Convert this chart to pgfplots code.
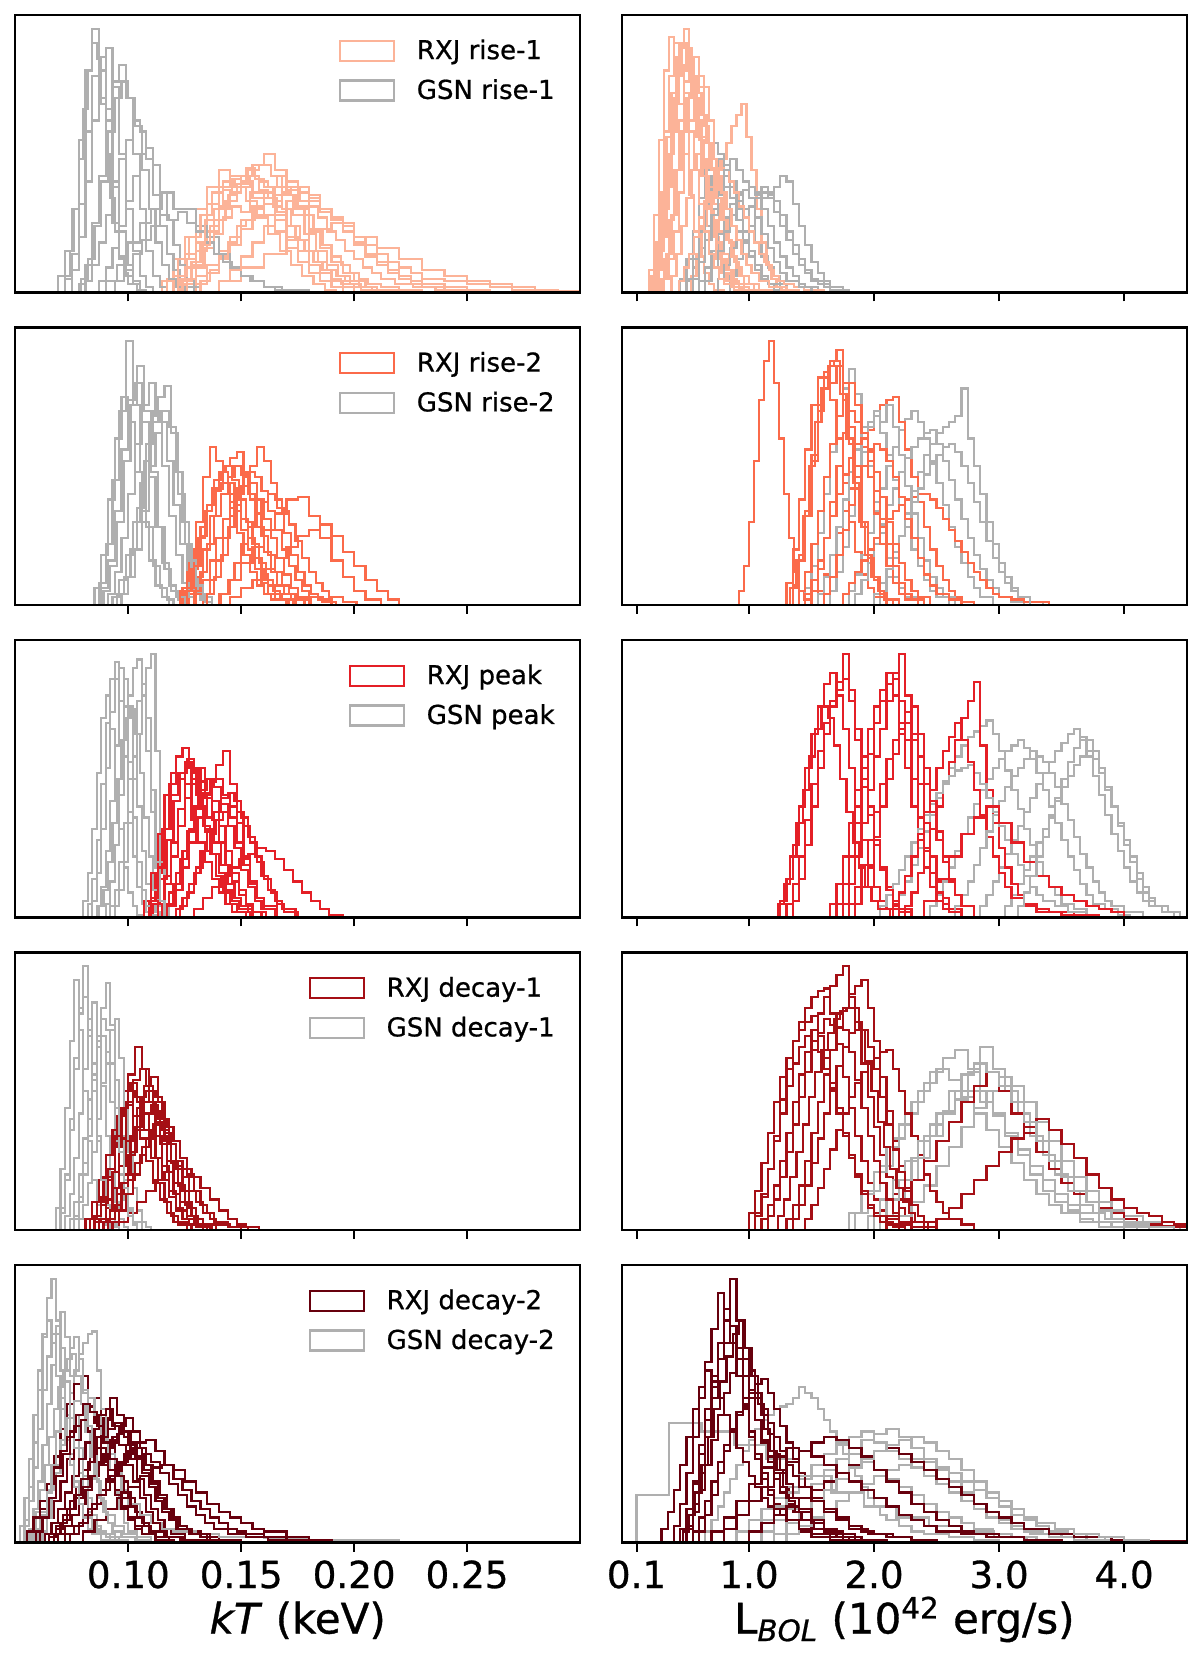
\documentclass[border=0pt]{standalone}
\usepackage{pgfplots}
\pgfplotsset{compat=1.18}
\usepackage{fontspec}
\setmainfont{DejaVu Sans}[FakeBold=0.8]
\definecolor{rA}{HTML}{FCB398}
\definecolor{rB}{HTML}{FB6A4A}
\definecolor{rC}{HTML}{E41F26}
\definecolor{rD}{HTML}{A50F15}
\definecolor{rE}{HTML}{67000D}
\definecolor{gs}{HTML}{AFAFAF}
\newcommand{\Hs}[2]{\addplot[h,#1] coordinates {#2};}
\pgfplotsset{
  h/.style={const plot, no markers, line width=1.1pt, forget plot},
  hp/.style={scale only axis, width=282.3pt, height=138.75pt, anchor=south west,
    ymin=0, ymax=100, ytick=\empty, xtick pos=left, tick align=outside,
    major tick length=4.5pt, axis line style={line width=1.1pt},
    every tick/.style={black, line width=1pt}, axis on top,
    xticklabel style={font=\fontsize{18.6}{22}\selectfont, anchor=base, inner sep=0pt, yshift=-18.25pt},
    xlabel style={font=\fontsize{21}{25}\selectfont, at={(axis description cs:0.5,0)}, anchor=base, inner sep=0pt, yshift=-45.5pt},
    legend style={at={(rel axis cs:1,1)}, anchor=north east, xshift=-12.5pt, yshift=-12pt,
      draw=none, fill=none, inner sep=0pt, font=\fontsize{13}{15}\selectfont,
      cells={anchor=west}, row sep=8.5pt, column sep=10.7pt, nodes={inner sep=0pt}},
    legend image code/.code={\draw[##1, line width=1.1pt] (0pt,-5pt) rectangle (27pt,5pt);}},
  lt/.style={hp, xmin=50, xmax=300, xtick={100,150,200,250}, xticklabels={}},
  rt/.style={hp, xmin=-1.6, xmax=450, xtick={10,100,200,300,400}, xticklabels={}},
}
\begin{document}
\begin{tikzpicture}
\useasboundingbox (0,0) rectangle (600pt,832.5pt);
% ===== Row 1 left
\begin{axis}[lt, at={(7.7pt,686.25pt)}]
\addlegendimage{draw=rA}\addlegendentry{RXJ rise-1}
\addlegendimage{draw=gs}\addlegendentry{GSN rise-1}
\Hs{rA}{(115,0)(120,4)(125,9)(130,15)(135,22)(140,30)(145,36)(150,42)(155,46)(160,50)(165,44)(170,38)(175,30)(180,22)(185,16)(190,11)(195,7)(200,4)(205,2)(210,1)(215,0)}
\Hs{gs}{(66,0)(69,6)(72,15)(75,30)(78,55)(81,80)(84,95)(87,70)(90,45)(93,25)(96,12)(99,6)(102,3)(105,1)(108,0)}
\Hs{rA}{(110,0)(115,4)(120,12)(125,20)(130,30)(135,38)(140,44)(145,42)(150,40)(155,34)(160,28)(165,22)(170,16)(175,11)(180,7)(185,4)(190,2)(195,0)}
\Hs{gs}{(69,0)(72,5)(75,14)(78,32)(81,58)(84,78)(87,85)(90,66)(93,40)(96,22)(99,10)(102,4)(105,1)(108,0)}
\Hs{rA}{(120,0)(125,3)(130,6)(135,10)(140,15)(145,20)(150,26)(155,31)(160,36)(165,38)(170,40)(175,38)(180,35)(185,30)(190,26)(195,22)(200,18)(205,14)(210,11)(215,8)(220,6)(225,4)(230,3)(240,2)(250,1)(260,0)}
\Hs{gs}{(75,0)(78,3)(81,10)(84,25)(87,42)(90,62)(93,76)(96,82)(99,70)(102,50)(105,30)(108,15)(111,6)(114,2)(117,0)}
\Hs{rA}{(115,0)(120,6)(125,14)(130,24)(135,32)(140,38)(145,42)(150,40)(155,36)(160,32)(165,26)(170,20)(175,15)(180,10)(185,7)(190,4)(195,2)(200,0)}
\Hs{gs}{(78,0)(81,4)(84,10)(87,18)(90,28)(93,38)(96,48)(99,55)(102,62)(105,58)(108,48)(111,35)(114,24)(117,14)(120,8)(123,4)(126,2)(129,0)}
\Hs{rA}{(125,0)(130,3)(135,7)(140,12)(145,17)(150,23)(155,28)(160,32)(165,35)(170,37)(175,36)(180,33)(185,29)(190,26)(195,22)(200,17)(205,13)(210,10)(215,7)(220,5)(225,3)(230,2)(240,1)(255,0)}
\Hs{gs}{(85,0)(90,4)(95,10)(100,18)(105,25)(110,30)(115,36)(120,30)(125,30)(130,24)(135,20)(140,14)(145,9)(150,6)(155,4)(160,2)(165,1)(170,0)}
\Hs{rA}{(118,0)(123,5)(128,10)(133,18)(138,26)(143,33)(148,39)(153,44)(158,46)(163,42)(168,35)(173,28)(178,21)(183,15)(188,10)(193,6)(198,3)(203,1)(208,0)}
\Hs{gs}{(72,0)(75,8)(78,20)(81,40)(84,62)(87,80)(90,88)(93,74)(96,50)(99,30)(102,15)(105,6)(108,2)(111,0)}
\Hs{rA}{(130,0)(140,4)(150,9)(160,14)(170,19)(180,23)(190,25)(200,20)(210,16)(220,12)(230,8)(240,6)(250,4)(260,3)(270,2)(280,1)(290,0.5)(300,0)}
\Hs{gs}{(84,0)(87,4)(90,9)(93,16)(96,24)(99,33)(102,42)(105,50)(108,52)(111,46)(114,36)(117,26)(120,17)(123,10)(126,5)(129,2)(132,0)}
\Hs{rA}{(112,0)(117,5)(122,12)(127,20)(132,28)(137,36)(142,40)(147,38)(152,33)(157,27)(162,21)(167,15)(172,10)(177,6)(182,3)(187,1)(192,0)}
\Hs{rA}{(122,0)(126,5)(130,9)(134,16)(138,21)(142,27)(146,31)(150,29)(154,36)(158,40)(162,38)(166,42)(170,35)(174,30)(178,28)(182,22)(186,17)(190,13)(194,10)(198,7)(202,5)(206,3)(212,2)(220,1)(230,0)}
\Hs{gs}{(76,0)(79,5)(82,12)(85,24)(88,40)(91,58)(94,70)(97,76)(100,70)(103,60)(106,44)(109,30)(112,18)(115,10)(118,5)(121,2)(125,0)}
\Hs{rA}{(128,0)(132,4)(136,8)(140,13)(144,18)(148,24)(152,26)(156,30)(160,34)(164,31)(168,36)(172,38)(176,33)(180,31)(184,27)(188,22)(192,19)(196,15)(200,12)(204,9)(208,7)(212,5)(218,3)(226,2)(236,1)(250,0)}
\Hs{gs}{(90,0)(94,4)(98,8)(102,14)(106,19)(110,24)(114,28)(118,26)(122,29)(126,25)(130,22)(134,18)(138,14)(142,11)(146,8)(150,6)(154,4)(160,2)(168,1)(180,0)}
\Hs{rA}{(118,0)(122,6)(126,12)(130,18)(134,26)(138,30)(142,37)(146,41)(150,38)(154,42)(158,37)(162,34)(166,29)(170,24)(174,19)(178,15)(182,11)(186,8)(190,5)(194,3)(200,2)(208,1)(216,0)}
\Hs{gs}{(70,0)(72,6)(74,15)(76,30)(78,48)(80,66)(82,80)(84,90)(86,84)(88,68)(90,50)(92,34)(94,22)(96,13)(98,7)(100,3)(104,1)(108,0)}
\Hs{rA}{(135,0)(140,4)(145,8)(150,13)(155,18)(160,24)(165,28)(170,33)(175,31)(180,34)(185,30)(190,27)(195,24)(200,20)(205,17)(210,14)(215,11)(220,9)(225,7)(230,5)(240,4)(250,3)(260,2)(270,1)(285,0)}
\Hs{rA}{(120,0)(124,4)(128,11)(132,17)(136,24)(140,31)(144,35)(148,39)(152,45)(156,41)(160,38)(164,33)(168,30)(172,24)(176,19)(180,15)(184,11)(188,8)(192,6)(196,4)(202,2)(210,1)(220,0)}
\end{axis}
% ===== Row 1 right
\begin{axis}[rt, at={(311pt,686.25pt)}]
\Hs{rA}{(20,0)(24,5)(28,15)(32,30)(36,50)(40,70)(44,88)(48,95)(52,85)(56,70)(60,55)(64,42)(68,30)(72,20)(76,12)(80,7)(84,4)(88,2)(92,1)(100,0)}
\Hs{gs}{(40,0)(45,5)(50,12)(55,22)(60,34)(65,44)(70,54)(75,50)(80,42)(85,34)(90,26)(95,19)(100,13)(105,8)(110,5)(115,3)(120,1)(130,0)}
\Hs{rA}{(16,0)(20,8)(24,28)(28,55)(32,80)(36,92)(40,85)(44,68)(48,50)(52,35)(56,22)(60,13)(64,7)(68,3)(72,1)(80,0)}
\Hs{gs}{(80,0)(85,6)(90,12)(95,18)(100,24)(105,30)(110,34)(115,36)(120,38)(125,42)(130,40)(135,32)(140,24)(145,17)(150,11)(155,7)(160,4)(165,2)(175,0)}
\Hs{rA}{(24,0)(28,4)(32,12)(36,26)(40,44)(44,62)(48,76)(52,84)(56,85)(60,74)(64,60)(68,45)(72,32)(76,22)(80,14)(84,8)(88,4)(92,2)(100,0)}
\Hs{gs}{(45,0)(50,4)(55,9)(60,16)(65,24)(70,30)(75,35)(80,38)(85,40)(90,36)(95,30)(100,24)(105,18)(110,13)(115,9)(120,6)(125,3)(130,1)(140,0)}
\Hs{rA}{(50,0)(54,6)(58,14)(62,24)(66,34)(70,40)(74,44)(78,48)(82,54)(86,60)(90,64)(94,68)(98,56)(102,44)(106,30)(110,18)(114,10)(118,5)(122,2)(130,0)}
\Hs{gs}{(55,0)(60,4)(65,9)(70,15)(75,21)(80,27)(85,32)(90,35)(95,37)(100,38)(105,35)(110,30)(115,24)(120,18)(125,13)(130,9)(135,6)(140,3)(145,2)(155,0)}
\Hs{rA}{(28,0)(32,5)(36,12)(40,22)(44,36)(48,50)(52,62)(56,72)(60,78)(64,74)(68,62)(72,48)(76,36)(80,26)(84,18)(88,11)(92,6)(96,3)(104,1)(112,0)}
\Hs{gs}{(45,0)(50,5)(55,12)(60,22)(65,32)(70,42)(75,48)(80,46)(85,38)(90,30)(95,22)(100,15)(105,10)(110,6)(115,3)(125,1)(135,0)}
\Hs{rA}{(22,0)(26,8)(30,20)(34,38)(38,58)(42,78)(46,90)(50,86)(54,72)(58,56)(62,42)(66,30)(70,20)(74,12)(78,7)(82,4)(86,2)(94,0)}
\Hs{gs}{(70,0)(75,5)(80,10)(85,16)(90,22)(95,27)(100,31)(105,34)(110,36)(115,35)(120,33)(125,28)(130,22)(135,17)(140,12)(145,8)(150,5)(155,3)(165,1)(180,0)}
\Hs{rA}{(40,0)(44,4)(48,9)(52,14)(56,20)(60,27)(64,33)(68,38)(72,42)(76,45)(80,44)(84,40)(88,36)(92,31)(96,27)(100,22)(104,18)(108,14)(112,11)(116,8)(120,6)(124,4)(128,3)(136,2)(144,1)(160,0)}
\Hs{rA}{(18,0)(22,6)(26,18)(30,36)(34,56)(38,72)(42,84)(46,80)(50,88)(54,76)(58,62)(62,48)(66,36)(70,26)(74,18)(78,12)(82,8)(86,5)(90,3)(96,1)(104,0)}
\Hs{gs}{(50,0)(55,5)(60,11)(65,19)(70,28)(75,36)(80,44)(85,48)(90,44)(95,40)(100,34)(105,27)(110,21)(115,16)(120,11)(125,7)(130,4)(140,2)(150,0)}
\Hs{rA}{(26,0)(30,5)(34,14)(38,28)(42,44)(46,58)(50,70)(54,78)(58,72)(62,64)(66,54)(70,44)(74,34)(78,26)(82,19)(86,13)(90,9)(94,6)(100,3)(108,1)(118,0)}
\Hs{gs}{(60,0)(65,4)(70,9)(75,15)(80,22)(85,28)(90,33)(95,37)(100,38)(105,36)(110,38)(115,34)(120,29)(125,24)(130,19)(135,14)(140,10)(145,7)(150,4)(160,2)(175,0)}
\Hs{rA}{(20,0)(24,10)(28,30)(32,58)(36,78)(40,90)(44,82)(48,72)(52,58)(56,44)(60,32)(64,22)(68,14)(72,9)(76,5)(80,3)(88,1)(96,0)}
\Hs{rA}{(34,0)(38,6)(42,14)(46,24)(50,34)(54,44)(58,50)(62,56)(66,54)(70,48)(74,42)(78,36)(82,30)(86,24)(90,19)(94,14)(98,10)(102,7)(108,4)(116,2)(126,1)(140,0)}
\end{axis}
% ===== Row 2 left
\begin{axis}[lt, at={(7.7pt,530pt)}]
\addlegendimage{draw=rB}\addlegendentry{RXJ rise-2}
\addlegendimage{draw=gs}\addlegendentry{GSN rise-2}
\Hs{gs}{(84,0)(87,8)(90,22)(93,45)(96,70)(99,95)(102,72)(105,48)(108,28)(111,14)(114,6)(117,2)(120,0)}
\Hs{rB}{(130,0)(133,4)(136,9)(139,16)(142,24)(145,32)(148,40)(151,46)(154,50)(157,57)(160,52)(163,44)(166,35)(169,26)(172,18)(175,12)(178,7)(181,4)(184,2)(190,0)}
\Hs{gs}{(86,0)(89,5)(92,14)(95,30)(98,52)(101,72)(104,86)(107,70)(110,48)(113,28)(116,13)(119,5)(122,2)(125,0)}
\Hs{rB}{(121,0)(124,6)(127,16)(130,30)(133,46)(136,57)(139,52)(142,44)(145,35)(148,26)(151,18)(154,12)(157,7)(160,4)(163,2)(170,0)}
\Hs{gs}{(92,0)(95,4)(98,10)(101,20)(104,35)(107,52)(110,66)(113,75)(116,79)(119,62)(122,40)(125,22)(128,10)(131,4)(134,1)(137,0)}
\Hs{rB}{(124,0)(127,4)(130,10)(133,20)(136,32)(139,42)(142,50)(145,53)(148,55)(151,48)(154,38)(157,28)(160,19)(163,12)(166,7)(169,4)(172,2)(178,0)}
\Hs{gs}{(88,0)(91,4)(94,12)(97,24)(100,40)(103,58)(106,72)(109,80)(112,68)(115,50)(118,32)(121,18)(124,8)(127,3)(130,0)}
\Hs{rB}{(140,0)(145,3)(150,6)(155,9)(160,13)(165,17)(170,21)(175,25)(180,27)(185,29)(190,25)(195,19)(200,14)(205,9)(210,5)(215,2)(220,0)}
\Hs{gs}{(82,0)(85,6)(88,18)(91,38)(94,60)(97,75)(100,66)(103,48)(106,30)(109,16)(112,7)(115,3)(118,0)}
\Hs{rB}{(135,0)(140,4)(145,9)(150,15)(155,21)(160,27)(165,33)(170,38)(175,39)(180,32)(185,24)(190,16)(195,10)(200,5)(205,2)(212,0)}
\Hs{gs}{(90,0)(93,3)(96,9)(99,18)(102,30)(105,44)(108,58)(111,70)(114,66)(117,52)(120,36)(123,22)(126,12)(129,5)(132,2)(135,0)}
\Hs{rB}{(122,0)(125,5)(128,13)(131,24)(134,34)(137,42)(140,48)(143,50)(146,45)(149,38)(152,30)(155,22)(158,15)(161,9)(164,5)(167,2)(173,0)}
\Hs{rB}{(127,0)(130,4)(133,9)(136,16)(139,24)(142,31)(145,37)(148,42)(151,46)(154,44)(157,38)(160,31)(163,24)(166,17)(169,11)(172,6)(175,3)(181,0)}
\Hs{gs}{(85,0)(88,6)(91,16)(94,34)(97,56)(100,74)(103,80)(106,66)(109,46)(112,28)(115,15)(118,7)(121,3)(125,0)}
\Hs{rB}{(120,0)(123,5)(126,12)(129,20)(132,28)(135,36)(138,41)(141,44)(144,40)(147,34)(150,27)(153,20)(156,13)(159,8)(162,4)(165,2)(171,0)}
\Hs{rB}{(126,0)(129,5)(132,12)(135,22)(138,32)(141,40)(144,46)(147,50)(150,47)(153,40)(156,33)(159,25)(162,18)(165,12)(168,7)(171,4)(174,2)(180,0)}
\Hs{gs}{(94,0)(97,4)(100,10)(103,20)(106,34)(109,50)(112,62)(115,70)(118,64)(121,48)(124,30)(127,16)(130,7)(133,3)(137,0)}
\Hs{rB}{(132,0)(135,4)(138,10)(141,18)(144,28)(147,36)(150,43)(153,48)(156,46)(159,41)(162,34)(165,27)(168,20)(171,14)(174,9)(177,5)(180,3)(186,1)(192,0)}
\Hs{rB}{(123,0)(126,6)(129,14)(132,25)(135,36)(138,45)(141,48)(144,44)(147,38)(150,31)(153,24)(156,17)(159,11)(162,7)(165,4)(168,2)(174,0)}
\Hs{rB}{(138,0)(141,4)(144,9)(147,15)(150,22)(153,28)(156,33)(159,37)(162,40)(165,38)(168,34)(171,29)(174,23)(177,17)(180,12)(183,8)(186,5)(189,3)(195,1)(201,0)}
\end{axis}
% ===== Row 2 right
\begin{axis}[rt, at={(311pt,530pt)}]
\Hs{rB}{(88,0)(92,5)(96,14)(100,30)(104,52)(108,74)(112,88)(116,95)(120,80)(124,60)(128,40)(132,24)(136,12)(140,5)(144,2)(150,0)}
\Hs{gs}{(140,0)(145,6)(150,14)(155,26)(160,40)(165,55)(170,68)(175,78)(180,85)(185,76)(190,64)(195,50)(200,37)(205,26)(210,17)(215,10)(220,6)(225,3)(235,0)}
\Hs{rB}{(130,0)(135,6)(140,16)(145,32)(150,52)(155,70)(160,82)(165,88)(170,92)(175,80)(180,64)(185,46)(190,30)(195,18)(200,10)(205,5)(210,2)(220,0)}
\Hs{gs}{(200,0)(205,5)(210,10)(215,17)(220,25)(225,33)(230,41)(235,48)(240,54)(245,58)(250,62)(255,64)(260,66)(265,68)(270,78)(275,60)(280,50)(285,40)(290,30)(295,22)(300,15)(305,10)(310,6)(315,3)(325,1)(335,0)}
\Hs{rB}{(125,0)(130,8)(135,20)(140,38)(145,56)(150,72)(155,82)(160,84)(165,74)(170,60)(175,44)(180,30)(185,19)(190,11)(195,6)(200,3)(210,0)}
\Hs{gs}{(175,0)(180,5)(185,11)(190,18)(195,26)(200,34)(205,42)(210,50)(215,57)(220,63)(225,67)(230,70)(235,66)(240,60)(245,52)(250,44)(255,36)(260,28)(265,21)(270,15)(275,10)(280,6)(285,3)(295,0)}
\Hs{rB}{(150,0)(155,5)(160,11)(165,18)(170,26)(175,34)(180,42)(185,50)(190,57)(195,63)(200,68)(205,72)(210,74)(215,75)(220,66)(225,56)(230,46)(235,37)(240,28)(245,20)(250,14)(255,9)(260,5)(265,3)(270,1)(280,0)}
\Hs{gs}{(180,0)(185,4)(190,9)(195,15)(200,22)(205,29)(210,36)(215,42)(220,48)(225,53)(230,57)(235,60)(240,62)(245,63)(250,58)(255,52)(260,45)(265,38)(270,31)(275,24)(280,18)(285,13)(290,9)(295,6)(300,3)(310,1)(320,0)}
\Hs{rB}{(135,0)(140,5)(145,12)(150,22)(155,34)(160,46)(165,58)(170,68)(175,76)(180,80)(185,72)(190,60)(195,46)(200,33)(205,22)(210,14)(215,8)(220,4)(225,2)(235,0)}
\Hs{gs}{(150,0)(155,4)(160,10)(165,18)(170,28)(175,38)(180,48)(185,56)(190,62)(195,66)(200,68)(205,62)(210,54)(215,45)(220,36)(225,28)(230,20)(235,14)(240,9)(245,5)(250,3)(260,0)}
\Hs{rB}{(170,0)(175,4)(180,8)(185,12)(190,16)(195,20)(200,24)(205,28)(210,31)(215,34)(220,36)(225,38)(230,39)(235,40)(240,40)(245,38)(250,35)(255,31)(260,27)(265,23)(270,19)(275,15)(280,12)(285,9)(290,6)(295,4)(300,3)(310,2)(320,1)(340,0)}
\Hs{gs}{(195,0)(200,4)(205,8)(210,13)(215,19)(220,25)(225,31)(230,37)(235,42)(240,47)(245,51)(250,54)(255,57)(260,58)(265,55)(270,50)(275,44)(280,37)(285,30)(290,23)(295,17)(300,12)(305,8)(310,5)(315,3)(325,0)}
\Hs{rB}{(128,0)(133,6)(138,16)(143,32)(148,50)(153,66)(158,78)(163,86)(168,88)(173,76)(178,60)(183,44)(188,30)(193,18)(198,10)(203,5)(208,2)(215,0)}
\Hs{rB}{(140,0)(145,4)(150,9)(155,16)(160,24)(165,32)(170,40)(175,47)(180,53)(185,58)(190,60)(195,56)(200,48)(205,39)(210,30)(215,22)(220,15)(225,9)(230,5)(235,3)(245,0)}
\Hs{gs}{(160,0)(165,5)(170,12)(175,21)(180,32)(185,44)(190,55)(195,64)(200,70)(205,66)(210,72)(215,64)(220,54)(225,43)(230,33)(235,24)(240,16)(245,10)(250,6)(255,3)(265,0)}
\Hs{rB}{(130,0)(135,7)(140,18)(145,34)(150,54)(155,72)(160,84)(165,80)(170,86)(175,74)(180,58)(185,42)(190,28)(195,17)(200,9)(205,4)(210,2)(220,0)}
\Hs{rB}{(145,0)(150,5)(155,13)(160,24)(165,37)(170,50)(175,62)(180,70)(185,66)(190,62)(195,52)(200,41)(205,31)(210,22)(215,14)(220,8)(225,4)(230,2)(240,0)}
\Hs{rB}{(155,0)(160,4)(165,10)(170,18)(175,27)(180,36)(185,44)(190,50)(195,55)(200,58)(205,56)(210,52)(215,46)(220,39)(225,31)(230,24)(235,17)(240,11)(245,7)(250,4)(260,2)(270,0)}
\end{axis}
% ===== Row 3 left
\begin{axis}[lt, at={(7.7pt,373.75pt)}]
\addlegendimage{draw=rC}\addlegendentry{RXJ peak}
\addlegendimage{draw=gs}\addlegendentry{GSN peak}
\Hs{gs}{(80,0)(82,5)(84,14)(86,28)(88,48)(90,70)(92,86)(94,92)(96,78)(98,58)(100,38)(102,22)(104,11)(106,5)(108,2)(110,0)}
\Hs{rC}{(106,0)(109,6)(112,16)(115,32)(118,48)(121,58)(124,61)(127,54)(130,44)(133,33)(136,23)(139,15)(142,9)(145,5)(148,2)(154,0)}
\Hs{gs}{(88,0)(90,5)(92,13)(94,26)(96,44)(98,64)(100,80)(102,90)(104,93)(106,80)(108,60)(110,38)(112,18)(114,6)(116,0)}
\Hs{rC}{(115,0)(118,4)(121,10)(124,18)(127,27)(130,36)(133,44)(136,50)(139,55)(142,60)(145,48)(148,34)(151,22)(154,13)(157,7)(160,3)(166,0)}
\Hs{gs}{(92,0)(94,4)(96,10)(98,20)(100,34)(102,50)(104,66)(106,80)(108,90)(110,95)(112,60)(114,20)(116,4)(118,0)}
\Hs{rC}{(110,0)(113,5)(116,12)(119,22)(122,33)(125,43)(128,50)(131,54)(134,50)(137,42)(140,33)(143,24)(146,16)(149,10)(152,5)(155,2)(161,0)}
\Hs{gs}{(78,0)(80,6)(82,16)(84,32)(86,52)(88,72)(90,80)(92,68)(94,50)(96,32)(98,18)(100,9)(102,4)(104,1)(106,0)}
\Hs{rC}{(125,0)(129,3)(133,7)(137,11)(141,15)(145,18)(149,21)(153,23)(157,25)(161,24)(165,21)(169,17)(173,13)(177,9)(181,6)(185,3)(189,1)(195,0)}
\Hs{gs}{(84,0)(86,4)(88,11)(90,24)(92,42)(94,62)(96,78)(98,86)(100,76)(102,58)(104,40)(106,24)(108,12)(110,5)(112,2)(114,0)}
\Hs{rC}{(108,0)(111,5)(114,14)(117,28)(120,42)(123,52)(126,57)(129,53)(132,45)(135,36)(138,27)(141,19)(144,12)(147,7)(150,4)(153,2)(159,0)}
\Hs{gs}{(85,0)(87,4)(89,10)(91,20)(93,34)(95,50)(97,64)(99,72)(101,75)(103,66)(105,52)(107,36)(109,22)(111,10)(113,4)(115,0)}
\Hs{rC}{(112,0)(115,4)(118,9)(121,16)(124,24)(127,32)(130,39)(133,45)(136,49)(139,50)(142,44)(145,36)(148,27)(151,19)(154,12)(157,7)(160,4)(166,0)}
\Hs{rC}{(104,0)(107,6)(110,16)(113,30)(116,44)(119,52)(122,50)(125,43)(128,35)(131,27)(134,20)(137,14)(140,9)(143,5)(146,2)(152,0)}
\Hs{gs}{(82,0)(84,6)(86,16)(88,32)(90,54)(92,74)(94,86)(96,90)(98,76)(100,56)(102,36)(104,20)(106,10)(108,4)(110,1)(112,0)}
\Hs{rC}{(118,0)(121,3)(124,7)(127,12)(130,18)(133,24)(136,30)(139,35)(142,38)(145,40)(148,38)(151,33)(154,27)(157,20)(160,14)(163,9)(166,5)(169,2)(175,0)}
\Hs{rC}{(110,0)(113,6)(116,15)(119,27)(122,39)(125,48)(128,52)(131,49)(134,43)(137,35)(140,27)(143,19)(146,13)(149,8)(152,4)(155,2)(161,0)}
\Hs{gs}{(90,0)(92,4)(94,10)(96,20)(98,34)(100,50)(102,66)(104,78)(106,84)(108,72)(110,46)(112,20)(114,6)(116,0)}
\Hs{rC}{(114,0)(117,5)(120,12)(123,21)(126,31)(129,40)(132,46)(135,50)(138,47)(141,41)(144,33)(147,25)(150,17)(153,11)(156,6)(159,3)(165,0)}
\Hs{rC}{(107,0)(110,7)(113,18)(116,32)(119,44)(122,50)(125,56)(128,48)(131,40)(134,31)(137,23)(140,16)(143,10)(146,6)(149,3)(155,0)}
\Hs{rC}{(120,0)(123,4)(126,9)(129,16)(132,24)(135,32)(138,38)(141,43)(144,45)(147,42)(150,36)(153,29)(156,22)(159,15)(162,10)(165,6)(168,3)(174,0)}
\end{axis}
% ===== Row 3 right
\begin{axis}[rt, at={(311pt,373.75pt)}]
\Hs{rC}{(125,0)(130,5)(135,12)(140,22)(145,35)(150,48)(155,60)(160,70)(165,78)(170,85)(175,95)(180,82)(185,68)(190,54)(195,40)(200,28)(205,18)(210,11)(215,6)(220,3)(230,0)}
\Hs{gs}{(210,0)(215,4)(220,8)(225,13)(230,19)(235,25)(240,31)(245,37)(250,43)(255,49)(260,54)(265,58)(270,62)(275,65)(280,67)(285,69)(290,71)(295,66)(300,60)(305,53)(310,46)(315,39)(320,32)(325,26)(330,20)(335,15)(340,11)(345,8)(350,5)(360,3)(370,1)(380,0)}
\Hs{rC}{(170,0)(175,5)(180,12)(185,22)(190,34)(195,46)(200,58)(205,68)(210,78)(215,86)(220,95)(225,80)(230,64)(235,48)(240,34)(245,22)(250,13)(255,7)(260,3)(270,0)}
\Hs{gs}{(280,0)(285,4)(290,8)(295,13)(300,18)(305,23)(310,28)(315,33)(320,38)(325,43)(330,48)(335,52)(340,56)(345,60)(350,63)(355,66)(360,68)(365,64)(370,58)(375,51)(380,44)(385,37)(390,30)(395,24)(400,18)(405,13)(410,9)(415,6)(420,4)(430,2)(440,0)}
\Hs{rC}{(120,0)(125,6)(130,14)(135,26)(140,40)(145,54)(150,66)(155,76)(160,84)(165,88)(170,80)(175,68)(180,54)(185,40)(190,28)(195,18)(200,11)(205,6)(210,3)(220,0)}
\Hs{gs}{(240,0)(245,4)(250,8)(255,13)(260,18)(265,24)(270,30)(275,36)(280,41)(285,46)(290,50)(295,54)(300,57)(305,60)(310,62)(315,64)(320,61)(325,57)(330,52)(335,46)(340,40)(345,34)(350,28)(355,22)(360,17)(365,12)(370,8)(375,5)(385,3)(395,1)(405,0)}
\Hs{rC}{(160,0)(165,5)(170,12)(175,22)(180,34)(185,46)(190,58)(195,68)(200,76)(205,82)(210,88)(215,80)(220,68)(225,54)(230,40)(235,28)(240,18)(245,11)(250,6)(255,3)(265,0)}
\Hs{gs}{(300,0)(305,4)(310,8)(315,12)(320,17)(325,22)(330,27)(335,32)(340,37)(345,42)(350,47)(355,51)(360,55)(365,58)(370,60)(375,57)(380,52)(385,46)(390,40)(395,34)(400,28)(405,22)(410,16)(415,11)(420,7)(425,4)(435,2)(445,0)}
\Hs{rC}{(220,0)(225,4)(230,9)(235,16)(240,24)(245,32)(250,40)(255,48)(260,56)(265,64)(270,72)(275,78)(280,85)(285,62)(290,46)(295,34)(300,25)(305,18)(310,12)(315,8)(320,5)(330,3)(340,2)(360,1)(380,0)}
\Hs{gs}{(200,0)(205,4)(210,8)(215,12)(220,17)(225,22)(230,27)(235,32)(240,37)(245,41)(250,45)(255,48)(260,51)(265,53)(270,54)(275,55)(280,52)(285,48)(290,43)(295,38)(300,33)(305,28)(310,23)(315,19)(320,15)(325,11)(330,8)(335,6)(345,4)(355,2)(370,0)}
\Hs{rC}{(210,0)(215,4)(220,9)(225,15)(230,22)(235,30)(240,38)(245,46)(250,54)(255,60)(260,65)(265,70)(270,64)(275,56)(280,46)(285,37)(290,29)(295,22)(300,16)(305,11)(310,7)(320,4)(330,2)(350,1)(370,0)}
\Hs{rC}{(118,0)(123,5)(128,12)(133,22)(138,34)(143,46)(148,58)(153,68)(158,76)(163,72)(168,62)(173,50)(178,38)(183,27)(188,18)(193,11)(198,6)(203,3)(213,0)}
\Hs{gs}{(260,0)(265,4)(270,8)(275,13)(280,19)(285,25)(290,31)(295,37)(300,42)(305,47)(310,51)(315,54)(320,57)(325,60)(330,58)(335,56)(340,52)(345,47)(350,41)(355,35)(360,29)(365,23)(370,18)(375,13)(380,9)(385,6)(390,4)(400,2)(415,0)}
\Hs{rC}{(175,0)(180,5)(185,11)(190,19)(195,28)(200,38)(205,48)(210,57)(215,64)(220,70)(225,74)(230,76)(235,66)(240,54)(245,42)(250,31)(255,22)(260,14)(265,8)(270,4)(280,0)}
\Hs{rC}{(230,0)(240,6)(250,14)(260,22)(270,30)(280,36)(290,40)(300,34)(310,27)(320,20)(330,15)(340,11)(350,8)(360,6)(370,4)(380,3)(390,2)(400,0)}
\Hs{gs}{(310,0)(315,4)(320,9)(325,15)(330,22)(335,29)(340,36)(345,43)(350,50)(355,56)(360,61)(365,65)(370,64)(375,60)(380,54)(385,47)(390,40)(395,33)(400,26)(405,20)(410,14)(415,9)(420,6)(425,4)(435,2)(445,0)}
\Hs{rC}{(130,0)(135,6)(140,14)(145,26)(150,40)(155,54)(160,66)(165,76)(170,82)(175,86)(180,78)(185,64)(190,50)(195,37)(200,26)(205,17)(210,10)(215,5)(220,2)(230,0)}
\Hs{rC}{(165,0)(170,5)(175,12)(180,22)(185,34)(190,47)(195,59)(200,70)(205,78)(210,84)(215,88)(220,78)(225,64)(230,50)(235,36)(240,25)(245,16)(250,9)(255,5)(260,2)(270,0)}
\Hs{rC}{(180,0)(185,5)(190,11)(195,19)(200,29)(205,40)(210,50)(215,59)(220,66)(225,70)(230,66)(235,58)(240,48)(245,38)(250,28)(255,20)(260,13)(265,8)(270,4)(280,0)}
\end{axis}
% ===== Row 4 left
\begin{axis}[lt, at={(7.7pt,217.5pt)}]
\addlegendimage{draw=rD}\addlegendentry{RXJ decay-1}
\addlegendimage{draw=gs}\addlegendentry{GSN decay-1}
\Hs{gs}{(68,0)(70,6)(72,18)(74,36)(76,58)(78,80)(80,95)(82,76)(84,54)(86,34)(88,18)(90,9)(92,4)(94,2)(96,0)}
\Hs{rD}{(82,0)(85,3)(88,9)(91,18)(94,30)(97,44)(100,56)(103,66)(106,58)(109,46)(112,34)(115,23)(118,14)(121,8)(124,4)(127,2)(133,0)}
\Hs{gs}{(66,0)(68,8)(70,22)(72,44)(74,68)(76,90)(78,72)(80,50)(82,32)(84,18)(86,9)(88,4)(90,2)(92,0)}
\Hs{rD}{(80,0)(83,4)(86,10)(89,19)(92,30)(95,41)(98,50)(101,53)(104,46)(107,36)(110,26)(113,17)(116,10)(119,5)(122,2)(128,0)}
\Hs{gs}{(74,0)(76,4)(78,10)(80,20)(82,34)(84,50)(86,66)(88,80)(90,89)(92,74)(94,54)(96,34)(98,18)(100,8)(102,3)(104,0)}
\Hs{rD}{(86,0)(89,3)(92,8)(95,15)(98,24)(101,34)(104,44)(107,52)(110,55)(113,46)(116,35)(119,25)(122,16)(125,9)(128,5)(131,2)(137,0)}
\Hs{gs}{(70,0)(72,5)(74,13)(76,26)(78,42)(80,58)(82,72)(84,82)(86,70)(88,52)(90,34)(92,20)(94,10)(96,4)(98,1)(100,0)}
\Hs{rD}{(88,0)(91,3)(94,7)(97,12)(100,18)(103,24)(106,30)(109,35)(112,39)(115,36)(118,31)(121,25)(124,19)(127,14)(130,10)(133,6)(136,4)(139,2)(145,1)(153,0)}
\Hs{gs}{(76,0)(78,4)(80,9)(82,17)(84,28)(86,40)(88,53)(90,64)(92,72)(94,76)(96,62)(98,44)(100,28)(102,15)(104,7)(106,3)(108,1)(110,0)}
\Hs{rD}{(92,0)(96,3)(100,6)(104,10)(108,14)(112,18)(116,21)(120,23)(124,22)(128,19)(132,15)(136,11)(140,7)(144,4)(148,2)(152,1)(158,0)}
\Hs{gs}{(72,0)(74,4)(76,10)(78,20)(80,33)(82,47)(84,60)(86,68)(88,70)(90,60)(92,46)(94,32)(96,20)(98,11)(100,5)(102,2)(104,0)}
\Hs{rD}{(84,0)(87,3)(90,8)(93,15)(96,23)(99,32)(102,41)(105,48)(108,50)(111,43)(114,34)(117,25)(120,17)(123,10)(126,5)(129,2)(135,0)}
\Hs{rD}{(78,0)(81,4)(84,10)(87,18)(90,27)(93,36)(96,43)(99,46)(102,41)(105,33)(108,25)(111,17)(114,11)(117,6)(120,3)(126,0)}
\Hs{gs}{(68,0)(70,8)(72,20)(74,40)(76,62)(78,78)(80,84)(82,70)(84,50)(86,32)(88,18)(90,9)(92,4)(94,1)(96,0)}
\Hs{rD}{(86,0)(89,3)(92,7)(95,13)(98,20)(101,28)(104,36)(107,42)(110,45)(113,40)(116,32)(119,24)(122,16)(125,10)(128,5)(131,2)(137,0)}
\Hs{rD}{(84,0)(87,4)(90,11)(93,21)(96,33)(99,45)(102,54)(105,58)(108,52)(111,42)(114,31)(117,21)(120,13)(123,7)(126,4)(129,2)(135,0)}
\Hs{gs}{(74,0)(76,5)(78,12)(80,24)(82,40)(84,56)(86,70)(88,76)(90,72)(92,60)(94,44)(96,28)(98,15)(100,7)(102,3)(106,0)}
\Hs{rD}{(88,0)(91,4)(94,9)(97,17)(100,27)(103,37)(106,46)(109,50)(112,48)(115,40)(118,31)(121,22)(124,14)(127,8)(130,4)(133,2)(139,0)}
\Hs{rD}{(82,0)(85,5)(88,12)(91,22)(94,34)(97,44)(100,50)(103,48)(106,42)(109,34)(112,26)(115,18)(118,12)(121,7)(124,4)(130,1)(136,0)}
\Hs{rD}{(90,0)(93,3)(96,7)(99,13)(102,20)(105,27)(108,33)(111,38)(114,40)(117,37)(120,32)(123,26)(126,20)(129,14)(132,9)(135,6)(138,3)(144,1)(150,0)}
\end{axis}
% ===== Row 4 right
\begin{axis}[rt, at={(311pt,217.5pt)}]
\Hs{rD}{(105,0)(110,4)(115,9)(120,16)(125,25)(130,35)(135,46)(140,56)(145,64)(150,72)(155,78)(160,84)(165,88)(170,92)(175,95)(180,84)(185,72)(190,60)(195,48)(200,37)(205,27)(210,19)(215,13)(220,8)(225,5)(230,3)(240,1)(250,0)}
\Hs{gs}{(175,0)(185,6)(195,14)(205,23)(215,33)(225,42)(235,50)(245,57)(255,62)(265,65)(275,58)(285,50)(295,42)(305,34)(315,27)(325,20)(335,14)(345,10)(355,7)(365,4)(375,3)(390,1)(410,0)}
\Hs{rD}{(125,0)(130,4)(135,9)(140,16)(145,25)(150,35)(155,46)(160,56)(165,65)(170,73)(175,80)(180,85)(185,88)(190,90)(195,80)(200,68)(205,55)(210,43)(215,32)(220,23)(225,15)(230,9)(235,5)(240,3)(250,0)}
\Hs{gs}{(195,0)(205,5)(215,11)(225,18)(235,26)(245,34)(255,42)(265,50)(275,57)(285,66)(295,58)(305,50)(315,42)(325,34)(335,27)(345,20)(355,14)(365,9)(375,6)(385,4)(400,2)(420,0)}
\Hs{rD}{(100,0)(105,5)(110,12)(115,22)(120,34)(125,47)(130,58)(135,68)(140,75)(145,80)(150,84)(155,86)(160,87)(165,78)(170,67)(175,55)(180,44)(185,34)(190,25)(195,17)(200,11)(205,7)(210,4)(220,2)(230,0)}
\Hs{gs}{(170,0)(180,6)(190,13)(200,21)(210,30)(220,38)(230,46)(240,53)(250,58)(260,54)(270,48)(280,42)(290,36)(300,30)(310,24)(320,18)(330,13)(340,9)(350,6)(365,3)(380,1)(400,0)}
\Hs{rD}{(95,0)(100,6)(105,14)(110,24)(115,35)(120,46)(125,55)(130,62)(135,68)(140,72)(145,75)(150,77)(155,70)(160,62)(165,53)(170,44)(175,35)(180,27)(185,20)(190,14)(195,9)(200,6)(205,3)(215,1)(225,0)}
\Hs{gs}{(210,0)(220,5)(230,10)(240,16)(250,23)(260,30)(270,37)(280,44)(290,50)(300,55)(310,52)(320,46)(330,39)(340,32)(350,25)(360,19)(370,14)(380,10)(390,7)(400,5)(415,3)(430,1)(445,0)}
\Hs{rD}{(140,0)(145,4)(150,9)(155,15)(160,22)(165,29)(170,36)(175,42)(180,48)(185,53)(190,57)(195,60)(200,62)(205,64)(210,65)(215,58)(220,50)(225,42)(230,34)(235,27)(240,20)(245,14)(250,10)(255,6)(260,4)(270,2)(280,0)}
\Hs{gs}{(185,0)(195,5)(205,11)(215,18)(225,25)(235,32)(245,38)(255,43)(265,47)(275,50)(285,46)(295,41)(305,35)(315,29)(325,23)(335,18)(345,13)(355,9)(365,6)(380,3)(400,1)(420,0)}
\Hs{rD}{(200,0)(210,5)(220,11)(230,18)(240,25)(250,32)(260,39)(270,46)(280,52)(290,57)(300,50)(310,42)(320,35)(330,28)(340,22)(350,17)(360,13)(370,10)(380,8)(390,6)(400,4)(410,3)(420,2)(430,1.5)(440,1)(450,1)}
\Hs{rD}{(240,0)(250,4)(260,8)(270,13)(280,18)(290,23)(300,28)(310,33)(320,37)(330,40)(340,36)(350,31)(360,26)(370,20)(380,15)(390,11)(400,8)(410,6)(420,5)(430,3)(440,2)(450,2)}
\Hs{gs}{(190,0)(200,5)(210,11)(220,18)(230,26)(240,34)(250,42)(260,50)(270,56)(280,60)(290,57)(300,52)(310,46)(320,39)(330,32)(340,25)(350,19)(360,14)(370,10)(380,7)(390,4)(400,3)(420,1)(440,0)}
\Hs{rD}{(118,0)(123,5)(128,11)(133,19)(138,28)(143,38)(148,48)(153,57)(158,65)(163,71)(168,76)(173,79)(178,80)(183,80)(188,72)(193,61)(198,50)(203,39)(208,30)(213,22)(218,15)(223,10)(228,6)(233,3)(243,0)}
\Hs{rD}{(110,0)(115,5)(120,11)(125,19)(130,28)(135,38)(140,48)(145,57)(150,65)(155,71)(160,76)(165,74)(170,78)(175,72)(180,64)(185,54)(190,44)(195,34)(200,25)(205,17)(210,11)(215,6)(220,3)(230,1)(240,0)}
\Hs{rD}{(130,0)(135,4)(140,9)(145,16)(150,24)(155,33)(160,42)(165,51)(170,59)(175,66)(180,71)(185,75)(190,72)(195,66)(200,58)(205,48)(210,38)(215,29)(220,21)(225,14)(230,9)(235,5)(240,3)(250,0)}
\Hs{rD}{(100,0)(105,6)(110,13)(115,22)(120,32)(125,42)(130,52)(135,60)(140,66)(145,70)(150,68)(155,64)(160,58)(165,50)(170,42)(175,34)(180,26)(185,19)(190,13)(195,8)(200,5)(210,2)(220,0)}
\end{axis}
% ===== Row 5 left
\begin{axis}[lt, at={(7.7pt,61.25pt)}, xticklabels={0.10,0.15,0.20,0.25}, xlabel={\textit{kT} (keV)}]
\addlegendimage{draw=rE}\addlegendentry{RXJ decay-2}
\addlegendimage{draw=gs}\addlegendentry{GSN decay-2}
\Hs{gs}{(52,0)(54,8)(56,20)(58,36)(60,55)(62,75)(64,88)(66,95)(68,80)(70,62)(72,46)(74,32)(76,22)(78,14)(80,9)(82,5)(84,3)(88,1)(94,0)}
\Hs{rE}{(62,0)(65,3)(68,6)(71,10)(74,15)(77,20)(80,26)(83,32)(86,38)(89,44)(92,52)(95,46)(98,38)(101,30)(104,23)(107,17)(110,12)(113,8)(116,5)(119,3)(125,1)(135,0)}
\Hs{gs}{(54,0)(56,5)(58,12)(60,22)(62,35)(64,50)(66,64)(68,75)(70,83)(72,74)(74,60)(76,46)(78,34)(80,24)(82,16)(84,10)(86,6)(88,3)(92,1)(98,0)}
\Hs{rE}{(58,0)(61,4)(64,9)(67,15)(70,22)(73,30)(76,37)(79,44)(82,49)(85,52)(88,45)(91,37)(94,29)(97,22)(100,16)(103,11)(106,7)(109,4)(112,2)(118,0)}
\Hs{gs}{(60,0)(62,4)(64,9)(66,16)(68,25)(70,35)(72,45)(74,54)(76,62)(78,68)(80,72)(82,75)(84,76)(86,62)(88,48)(90,36)(92,26)(94,18)(96,12)(98,7)(100,4)(104,2)(110,0)}
\Hs{rE}{(55,0)(58,5)(61,12)(64,21)(67,31)(70,41)(73,50)(76,57)(79,60)(82,52)(85,43)(88,34)(91,26)(94,19)(97,13)(100,9)(103,6)(106,3)(112,1)(120,0)}
\Hs{gs}{(52,0)(54,6)(56,15)(58,27)(60,41)(62,55)(64,67)(66,75)(68,78)(70,70)(72,58)(74,45)(76,34)(78,25)(80,17)(82,11)(84,7)(86,4)(90,2)(96,0)}
\Hs{rE}{(66,0)(69,3)(72,6)(75,10)(78,14)(81,19)(84,24)(87,29)(90,34)(93,38)(96,42)(99,45)(102,40)(105,34)(108,28)(111,22)(114,17)(117,12)(120,9)(123,6)(126,4)(132,2)(140,1)(150,0)}
\Hs{gs}{(55,0)(58,5)(61,11)(64,19)(67,28)(70,37)(73,45)(76,51)(79,55)(82,52)(85,46)(88,39)(91,32)(94,25)(97,19)(100,14)(105,10)(110,7)(115,5)(120,4)(130,3)(140,2)(160,1.5)(180,1)(200,1)(220,0)}
\Hs{rE}{(68,0)(72,3)(76,6)(80,10)(84,14)(88,19)(92,24)(96,29)(100,33)(104,36)(108,37)(112,33)(116,28)(120,23)(124,19)(128,15)(132,12)(136,9)(140,7)(144,5)(148,4)(152,3)(160,2)(170,1)(180,0)}
\Hs{gs}{(55,0)(57,5)(59,11)(61,19)(63,28)(65,38)(67,48)(69,56)(71,62)(73,66)(75,68)(77,60)(79,50)(81,40)(83,31)(85,23)(87,16)(89,11)(91,7)(93,4)(97,2)(103,0)}
\Hs{rE}{(60,0)(63,3)(66,7)(69,12)(72,18)(75,24)(78,30)(81,36)(84,41)(87,46)(90,48)(93,42)(96,35)(99,28)(102,22)(105,16)(108,11)(111,7)(114,4)(117,2)(123,0)}
\Hs{rE}{(62,0)(65,2)(68,5)(71,8)(74,12)(77,16)(80,20)(83,24)(86,28)(89,32)(92,36)(95,39)(98,40)(101,36)(104,31)(107,26)(110,21)(113,16)(116,12)(119,8)(122,5)(128,3)(136,1)(146,0)}
\Hs{gs}{(50,0)(52,6)(54,16)(56,30)(58,46)(60,62)(62,74)(64,80)(66,72)(68,60)(70,48)(72,37)(74,28)(76,20)(78,14)(80,9)(84,5)(88,3)(94,1)(100,0)}
\Hs{rE}{(52,0)(55,4)(58,9)(61,15)(64,21)(67,27)(70,33)(73,38)(76,42)(79,44)(82,40)(85,34)(88,28)(91,22)(94,17)(97,12)(100,8)(103,5)(106,3)(112,1)(120,0)}
\Hs{rE}{(75,0)(80,4)(85,8)(90,12)(95,16)(100,20)(105,24)(110,27)(115,28)(120,26)(125,22)(130,18)(135,14)(140,11)(145,9)(150,7)(155,5)(160,4)(170,2)(180,1)(190,0)}
\Hs{gs}{(58,0)(60,4)(62,10)(64,18)(66,28)(68,40)(70,52)(72,62)(74,70)(76,74)(78,66)(80,54)(82,42)(84,31)(86,22)(88,15)(90,10)(94,6)(98,3)(104,1)(110,0)}
\Hs{rE}{(56,0)(59,4)(62,9)(65,16)(68,24)(71,32)(74,40)(77,46)(80,50)(83,47)(86,42)(89,36)(92,30)(95,24)(98,18)(101,13)(104,9)(107,6)(110,4)(116,2)(124,1)(134,0)}
\Hs{rE}{(64,0)(67,3)(70,7)(73,12)(76,17)(79,23)(82,29)(85,34)(88,38)(91,41)(94,43)(97,40)(100,35)(103,30)(106,25)(109,20)(112,15)(115,11)(118,8)(121,5)(127,3)(135,1)(145,0)}
\Hs{rE}{(70,0)(74,3)(78,7)(82,12)(86,17)(90,23)(94,28)(98,32)(102,34)(106,32)(110,29)(114,25)(118,21)(122,17)(126,13)(130,10)(134,7)(138,5)(144,3)(152,2)(162,1)(175,0)}
\end{axis}
% ===== Row 5 right
\begin{axis}[rt, at={(311pt,61.25pt)}, xticklabels={0.1,1.0,2.0,3.0,4.0}, xlabel={L\textsubscript{\textit{BOL}} (10\textsuperscript{42} erg/s)}]
\Hs{gs}{(10,0)(10,17)(36,43)(62,40)(88,35)(114,30)(140,24)(166,18)(192,13)(218,9)(244,6)(270,4)(296,2)(322,1)(348,0)}
\Hs{rE}{(40,0)(45,5)(50,12)(55,22)(60,35)(65,48)(70,60)(75,72)(80,84)(85,95)(90,80)(95,66)(100,54)(105,44)(110,36)(115,29)(120,23)(125,18)(130,14)(135,11)(140,8)(150,5)(160,3)(170,2)(180,1)(200,0)}
\Hs{gs}{(60,0)(65,4)(70,8)(75,13)(80,18)(85,23)(90,28)(95,33)(100,37)(105,41)(110,44)(115,46)(120,48)(125,49)(130,50)(135,52)(140,56)(145,54)(150,52)(155,48)(160,44)(165,40)(170,36)(175,32)(180,28)(185,24)(190,20)(195,16)(200,13)(205,10)(210,8)(220,6)(230,4)(240,3)(260,2)(280,1)(300,0)}
\Hs{rE}{(35,0)(40,6)(45,14)(50,25)(55,38)(60,52)(65,65)(70,77)(75,90)(80,84)(85,72)(90,60)(95,49)(100,40)(105,32)(110,25)(115,19)(120,14)(125,10)(130,7)(140,4)(150,2)(165,1)(180,0)}
\Hs{gs}{(100,0)(110,4)(120,8)(130,12)(140,16)(150,21)(160,26)(170,30)(180,34)(190,37)(200,39)(210,41)(220,38)(230,34)(240,30)(250,26)(260,22)(270,18)(280,14)(290,11)(300,8)(310,6)(320,4)(335,3)(350,2)(370,1)(390,0)}
\Hs{rE}{(42,0)(47,4)(52,10)(57,18)(62,28)(67,38)(72,48)(77,58)(82,67)(87,75)(92,80)(97,70)(102,60)(107,50)(112,41)(117,33)(122,26)(127,20)(132,15)(137,11)(142,8)(152,5)(162,3)(175,1)(190,0)}
\Hs{gs}{(90,0)(100,4)(110,8)(120,13)(130,18)(140,23)(150,28)(160,32)(170,36)(180,38)(190,40)(200,36)(210,33)(220,30)(230,27)(240,24)(250,21)(260,18)(270,15)(280,12)(290,9)(300,7)(310,5)(325,3)(340,2)(360,1)(380,0)}
\Hs{rE}{(25,0)(30,5)(35,11)(40,19)(45,28)(50,38)(55,48)(60,56)(65,62)(70,58)(75,52)(80,46)(85,40)(90,34)(95,29)(100,24)(105,20)(110,16)(115,13)(120,10)(130,7)(140,5)(150,3)(165,2)(180,1)(200,0)}
\Hs{gs}{(120,0)(130,3)(140,6)(150,9)(160,12)(170,15)(180,18)(190,21)(200,24)(210,26)(220,28)(230,30)(240,29)(250,27)(260,25)(270,22)(280,19)(290,16)(300,13)(310,10)(320,8)(330,6)(340,4)(355,3)(370,2)(385,1)(400,0)}
\Hs{rE}{(50,0)(55,4)(60,9)(65,15)(70,22)(75,29)(80,35)(85,41)(90,46)(95,50)(100,54)(105,57)(110,59)(115,54)(120,48)(125,42)(130,36)(135,30)(140,25)(145,20)(150,16)(160,12)(170,9)(180,6)(190,4)(200,3)(215,2)(230,1)(250,0)}
\Hs{gs}{(80,0)(90,4)(100,8)(110,12)(120,16)(130,20)(140,24)(150,28)(160,32)(170,35)(180,32)(190,29)(200,26)(210,23)(220,20)(230,17)(240,14)(250,11)(260,9)(270,7)(280,5)(295,3)(310,2)(330,1)(350,0)}
\Hs{rE}{(70,0)(80,5)(90,10)(100,15)(110,20)(120,25)(130,29)(140,33)(150,36)(160,38)(170,37)(180,34)(190,30)(200,26)(210,22)(220,18)(230,14)(240,11)(250,8)(260,6)(270,4)(280,3)(300,2)(320,1)(350,0)}
\Hs{rE}{(90,0)(100,4)(110,7)(120,10)(130,13)(140,16)(150,19)(160,22)(170,25)(180,28)(190,31)(200,33)(210,34)(220,32)(230,29)(240,26)(250,23)(260,20)(270,17)(280,14)(290,11)(300,9)(310,7)(320,5)(340,3)(360,2)(390,1)(420,0.5)(450,0)}
\Hs{gs}{(110,0)(120,3)(130,7)(140,11)(150,15)(160,19)(170,23)(180,27)(190,30)(200,33)(210,35)(220,37)(230,38)(240,36)(250,33)(260,30)(270,26)(280,22)(290,18)(300,15)(310,12)(320,9)(330,7)(345,5)(360,3)(380,2)(400,1)(420,0)}
\Hs{rE}{(45,0)(50,5)(55,11)(60,19)(65,28)(70,37)(75,46)(80,54)(85,61)(90,66)(95,70)(100,62)(105,54)(110,46)(115,39)(120,32)(125,26)(130,21)(135,16)(140,12)(150,8)(160,5)(170,3)(185,1)(200,0)}
\Hs{rE}{(45,0)(50,6)(55,14)(60,25)(65,38)(70,52)(75,66)(80,80)(85,72)(90,60)(95,48)(100,38)(105,30)(110,23)(115,17)(120,12)(130,8)(140,5)(150,3)(165,1)(180,0)}
\Hs{rE}{(40,0)(45,5)(50,12)(55,21)(60,32)(65,44)(70,56)(75,66)(80,72)(85,78)(90,70)(95,60)(100,52)(105,44)(110,37)(115,31)(120,25)(125,20)(130,16)(140,11)(150,7)(160,4)(175,2)(190,1)(210,0)}
\Hs{rE}{(55,0)(60,4)(65,10)(70,17)(75,25)(80,33)(85,41)(90,47)(95,52)(100,55)(105,52)(110,48)(115,43)(120,38)(125,33)(130,28)(135,24)(140,20)(150,15)(160,11)(170,8)(180,5)(195,3)(210,2)(230,1)(250,0)}
\Hs{rE}{(60,0)(70,4)(80,9)(90,15)(100,21)(110,27)(120,31)(130,34)(140,33)(150,31)(160,28)(170,25)(180,22)(190,19)(200,16)(210,13)(220,10)(230,8)(240,6)(250,4)(270,3)(290,2)(320,1)(350,0)}
\end{axis}
\end{tikzpicture}
\end{document}
